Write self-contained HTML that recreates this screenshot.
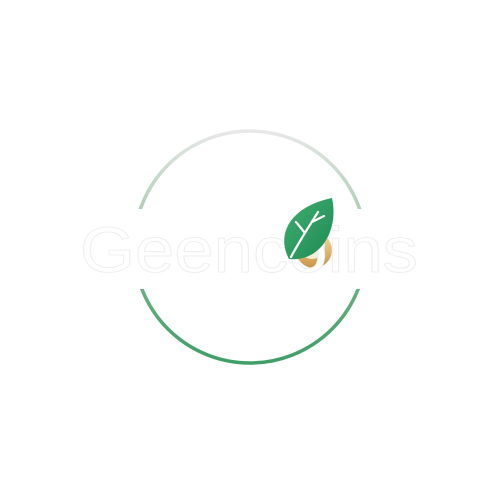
<!DOCTYPE html>
<html><head><meta charset="utf-8"><style>html,body{margin:0;padding:0;background:#fff}svg{display:block}</style></head>
<body>
<svg width="500" height="500" viewBox="0 0 500 500">
<defs>
<linearGradient id="ring" x1="0" y1="0" x2="0" y2="1">
<stop offset="0" stop-color="#e8e8e8"/><stop offset="0.4" stop-color="#a3caab"/><stop offset="0.6" stop-color="#74b488"/><stop offset="1" stop-color="#3f9e67"/>
</linearGradient>
<linearGradient id="leaf" x1="0" y1="0" x2="1" y2="1">
<stop offset="0" stop-color="#3fae6e"/><stop offset="1" stop-color="#1f8a55"/>
</linearGradient>
<linearGradient id="coin" x1="0" y1="0" x2="0" y2="1">
<stop offset="0" stop-color="#f3dcaa"/><stop offset="1" stop-color="#c99545"/>
</linearGradient>
<clipPath id="gap"><rect x="0" y="0" width="500" height="209"/><rect x="0" y="289" width="500" height="211"/></clipPath>
</defs>
<circle cx="250" cy="247" r="116" fill="none" stroke="url(#ring)" stroke-width="3.5" clip-path="url(#gap)"/>
<g>
<circle cx="314" cy="250" r="18" fill="url(#coin)"/>
<circle cx="312" cy="246" r="13" fill="#f7ecd6"/>
</g>
<text x="80" y="272" font-family="Liberation Sans, sans-serif" font-size="64" font-weight="300" fill="#fff" stroke="#efefef" stroke-width="1" textLength="338" lengthAdjust="spacingAndGlyphs">Geencoins</text>
<g>
<path d="M289 259 C276 235 289 207 332 198 C339 230 321 262 289 259 Z" fill="url(#leaf)"/>
<path d="M291 257 C300 240 310 225 318 212 M305 233 L296 222 M312 222 L324 216" stroke="#fff" stroke-width="2.2" fill="none" stroke-linecap="round"/>
</g>
</svg>
</body></html>
